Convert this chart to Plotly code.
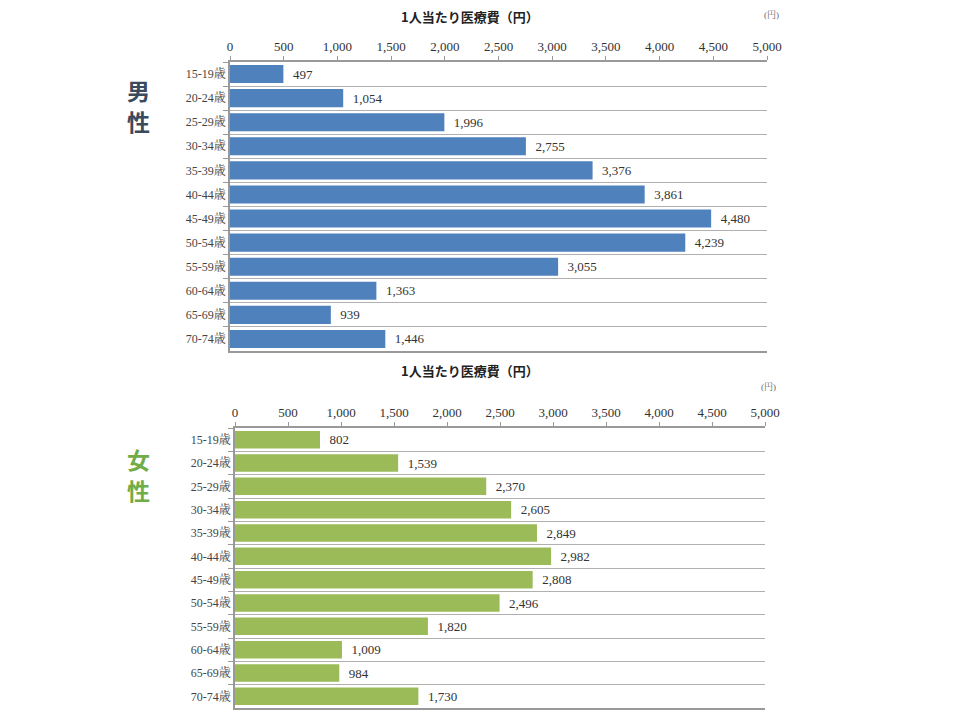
import plotly.graph_objects as go

ages = ["15-19歳", "20-24歳", "25-29歳", "30-34歳", "35-39歳", "40-44歳",
        "45-49歳", "50-54歳", "55-59歳", "60-64歳", "65-69歳", "70-74歳"]
male_cost = [497, 1054, 1996, 2755, 3376, 3861, 4480, 4239, 3055, 1363, 939, 1446]
female_cost = [802, 1539, 2370, 2605, 2849, 2982, 2808, 2496, 1820, 1009, 984, 1730]
x_ticks = list(range(0, 5001, 500))
chart_title = "1人当たり医療費（円）"
unit = "(円)"

serif = "Liberation Serif, Noto Serif CJK JP, Noto Sans CJK JP"
cjk = "Noto Sans CJK JP"

# page body has an 8px default margin; shift layout to compensate
OX, OY = 8, 8
W, H = 960, 720

def px(x):
    return (x - OX) / W

def py(y):
    return 1 - (y - OY) / H

fig = go.Figure()
fig.add_trace(go.Bar(
    x=male_cost, y=ages, orientation="h", marker=dict(color="#4f81bd", line=dict(width=0)),
    texttemplate="\u00a0\u00a0%{x:,.0f}", textposition="outside", cliponaxis=False,
    textfont=dict(family=serif, size=13, color="#333333"),
    xaxis="x", yaxis="y", showlegend=False))
fig.add_trace(go.Bar(
    x=female_cost, y=ages, orientation="h", marker=dict(color="#9bbb59", line=dict(width=0)),
    texttemplate="\u00a0\u00a0%{x:,.0f}", textposition="outside", cliponaxis=False,
    textfont=dict(family=serif, size=13, color="#333333"),
    xaxis="x2", yaxis="y2", showlegend=False))

def xax(domain, anchor):
    return dict(domain=domain, anchor=anchor, side="top", range=[0, 5000],
                tickvals=x_ticks, tickformat=",", showgrid=False, zeroline=False,
                showline=True, linecolor="#999999", linewidth=1.5, mirror=True,
                ticks="outside", ticklen=4, tickcolor="#999999", automargin=False,
                tickfont=dict(family=serif, size=13, color="#333333"), fixedrange=True)

def yax(domain, anchor):
    return dict(domain=domain, anchor=anchor, type="category", categoryorder="array",
                categoryarray=ages, autorange="reversed", tickson="boundaries",
                showgrid=True, gridcolor="#b0b0b0", gridwidth=1,
                showline=True, linecolor="#999999", linewidth=1.5,
                ticks="outside", ticklen=5, tickcolor="#999999", automargin=False,
                tickfont=dict(family=serif, size=12, color="#444444"), fixedrange=True)

fig.update_layout(
    width=W, height=H, margin=dict(l=0, r=0, t=0, b=0, autoexpand=False),
    paper_bgcolor="white", plot_bgcolor="white", bargap=0.25,
    xaxis=xax([px(230), px(767)], "y"),
    yaxis=yax([py(351), py(62)], "x"),
    xaxis2=xax([px(235), px(765)], "y2"),
    yaxis2=yax([py(708), py(428)], "x2"),
)

ann = [
    dict(text=chart_title, x=470, y=17, size=13, color="#222222", fam=cjk, bold=True),
    dict(text=unit, x=771, y=15, size=9, color="#666666", fam=serif, bold=False),
    dict(text=chart_title, x=470, y=370, size=13, color="#222222", fam=cjk, bold=True),
    dict(text=unit, x=768, y=387, size=9, color="#666666", fam=serif, bold=False),
    dict(text="男", x=138, y=90, size=23, color="#3b4a5c", fam=cjk, bold=True),
    dict(text="性", x=138, y=121, size=23, color="#3b4a5c", fam=cjk, bold=True),
    dict(text="女", x=138, y=459, size=23, color="#70ad47", fam=cjk, bold=True),
    dict(text="性", x=138, y=490, size=23, color="#70ad47", fam=cjk, bold=True),
]
for a in ann:
    t = "<b>" + a["text"] + "</b>" if a["bold"] else a["text"]
    fig.add_annotation(text=t, x=px(a["x"]), y=py(a["y"]), xref="paper", yref="paper",
                       xanchor="center", yanchor="middle", showarrow=False,
                       font=dict(family=a["fam"], size=a["size"], color=a["color"]))

fig.write_html("out.html")
